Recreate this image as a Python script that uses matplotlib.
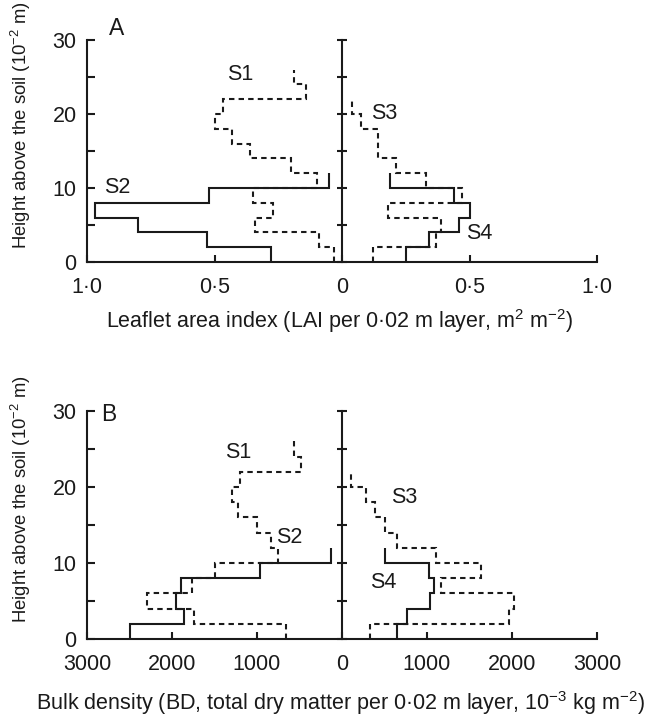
import numpy as np
import matplotlib
matplotlib.use("Agg")
import matplotlib.pyplot as plt

plt.rcParams['font.family'] = ['Liberation Sans', 'DejaVu Sans']
plt.rcParams['mathtext.fontset'] = 'custom'
plt.rcParams['mathtext.rm'] = 'Liberation Sans'

# Layer thickness in 10^-2 m
layer = 2

# Panel A: leaflet area index per layer (bottom to top)
lai_s1 = [0.03, 0.09, 0.34, 0.27, 0.35, 0.10, 0.20, 0.36, 0.43, 0.50, 0.465, 0.14, 0.19]
lai_s2 = [0.28, 0.53, 0.80, 0.97, 0.52, 0.05]
lai_s3 = [0.12, 0.37, 0.39, 0.18, 0.47, 0.33, 0.21, 0.14, 0.14, 0.076, 0.04]
lai_s4 = [0.25, 0.34, 0.46, 0.50, 0.44, 0.19]

# Panel B: bulk density per layer (bottom to top)
bd_s1 = [660, 1740, 2300, 1760, 1500, 750, 830, 1000, 1220, 1300, 1200, 480, 570]
bd_s2 = [2500, 1860, 1950, 1890, 970, 130]
bd_s3 = [335, 1970, 2020, 1170, 1640, 1100, 650, 500, 390, 280, 110]
bd_s4 = [650, 770, 1040, 1080, 1020, 500]

a_xticks = [-1.0, -0.5, 0, 0.5, 1.0]
a_xticklabels = ['1·0', '0·5', '0', '0·5', '1·0']
b_xticks = [-3000, -2000, -1000, 0, 1000, 2000, 3000]
b_xticklabels = ['3000', '2000', '1000', '0', '1000', '2000', '3000']
yticks = [0, 5, 10, 15, 20, 25, 30]
yticklabels = ['0', '', '10', '', '20', '', '30']

FS = 15.5
YFS = 13.3
LW = 1.5
DASH = (0, (2.6, 2.0))
INK = '#1a1a1a'

fig = plt.figure(figsize=(6.5, 7.16), dpi=100)
axA = fig.add_axes([87/650, 1-262/716, 510/650, 222/716])
axB = fig.add_axes([87/650, 1-639/716, 510/650, 228/716])


def edges(vals):
    return np.arange(len(vals) + 1) * layer


def draw(ax, left_dash, left_solid, right_dash, right_solid):
    for v, ls, sgn in [(left_dash, DASH, -1), (left_solid, '-', -1),
                       (right_dash, DASH, 1), (right_solid, '-', 1)]:
        ax.stairs(sgn * np.array(v), edges(v), orientation='horizontal',
                  baseline=None, color=INK, lw=LW, linestyle=ls,
                  clip_on=False)


def style(ax, xticks, xticklabels):
    ax.set_ylim(0, 30)
    ax.set_xlim(xticks[0], xticks[-1])
    for s in ['top', 'right']:
        ax.spines[s].set_visible(False)
    for s in ['left', 'bottom']:
        ax.spines[s].set_linewidth(LW)
        ax.spines[s].set_color(INK)
    ax.set_xticks(xticks)
    ax.set_xticklabels(xticklabels)
    ax.set_yticks(yticks)
    ax.set_yticklabels(yticklabels)
    ax.tick_params(axis='x', direction='in', length=5, width=LW, pad=10.5,
                   labelsize=FS, color=INK, labelcolor=INK)
    ax.tick_params(axis='y', direction='in', length=6, width=LW, pad=7.5,
                   labelsize=FS, color=INK, labelcolor=INK)
    # central axis with crossing ticks
    ax.plot([0, 0], [0, 30], color=INK, lw=LW, clip_on=False)
    ax.plot(np.zeros(len(yticks)), yticks, ls='none', marker='_',
            ms=7.5, mew=LW, color=INK, clip_on=False)
    ax.set_ylabel('Height above the soil (10$^{\\mathregular{-2}}$ m)',
                  fontsize=YFS, color=INK)
    ax.yaxis.set_label_coords(-0.106, 0.615)


draw(axA, lai_s1, lai_s2, lai_s3, lai_s4)
style(axA, a_xticks, a_xticklabels)
axA.set_xlabel('Leaflet area index (LAI per 0·02 m layer, m$^{\\mathregular{2}}$ m$^{\\mathregular{-2}}$)',
               fontsize=FS, color=INK)
axA.xaxis.set_label_coords(0.496, -0.205)
for txt, x, y in [('S1', -0.40, 25.3), ('S2', -0.88, 10.1), ('S3', 0.166, 20.1),
                  ('S4', 0.54, 3.9), ('A', -0.885, 31.6)]:
    axA.text(x, y, txt, fontsize=FS + 1 if txt == 'A' else FS,
             ha='center', va='center', color=INK)

draw(axB, bd_s1, bd_s2, bd_s3, bd_s4)
style(axB, b_xticks, b_xticklabels)
axB.set_xlabel('Bulk density (BD, total dry matter per 0·02 m layer, 10$^{\\mathregular{-3}}$ kg m$^{\\mathregular{-2}}$)',
               fontsize=FS, color=INK)
axB.xaxis.set_label_coords(0.496, -0.22)
for txt, x, y in [('S1', -1225, 24.5), ('S2', -620, 13.4), ('S3', 730, 18.6),
                  ('S4', 490, 7.5), ('B', -2740, 29.5)]:
    axB.text(x, y, txt, fontsize=FS + 1 if txt == 'B' else FS,
             ha='center', va='center', color=INK)

fig.savefig('out.png', dpi=100)
